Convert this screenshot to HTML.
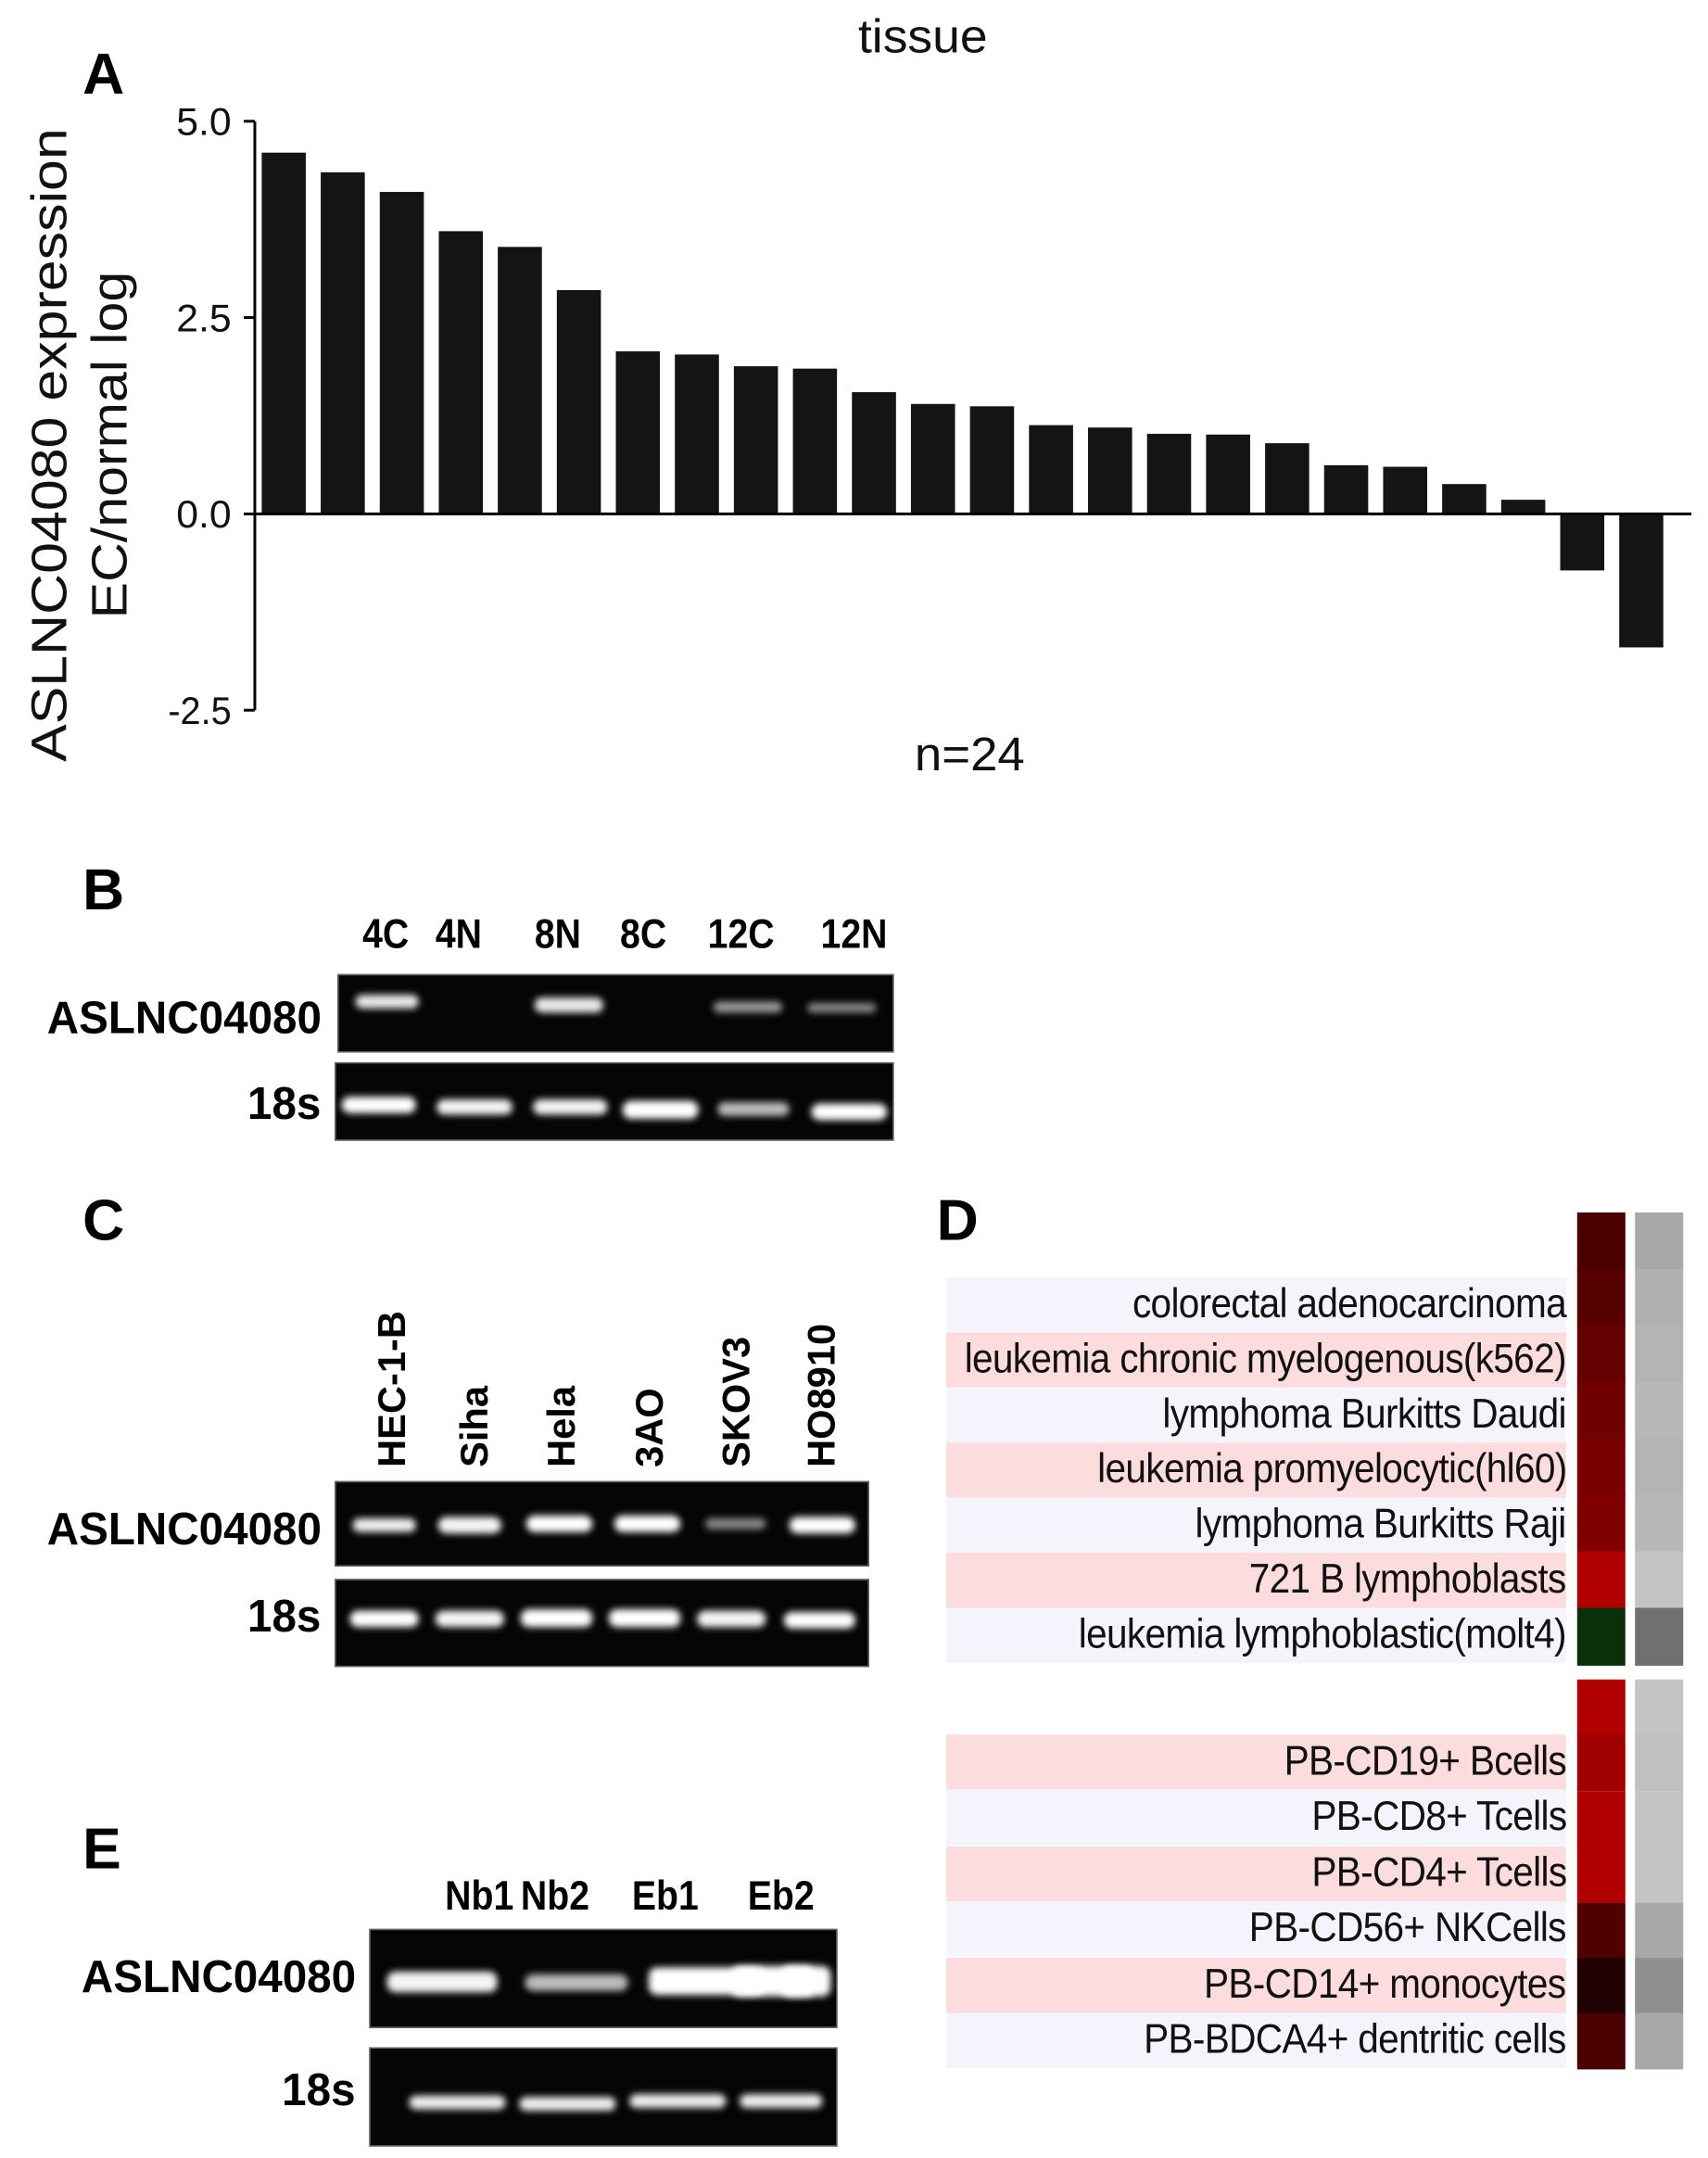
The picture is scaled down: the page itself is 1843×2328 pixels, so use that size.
<!DOCTYPE html>
<html><head><meta charset="utf-8"><style>
html,body{margin:0;padding:0;background:#fff;}
body{width:1843px;height:2328px;overflow:hidden;position:relative;}
#root{position:absolute;left:0;top:0;width:1240px;height:1566px;transform:scale(1.48629);transform-origin:0 0;font-family:"Liberation Sans",sans-serif;}
.abs{position:absolute;}
.big{font-weight:bold;font-size:42px;}
.lane{font-weight:bold;font-size:30px;position:absolute;transform:translateX(-50%) scaleX(0.88);white-space:nowrap;}
.rlane{font-weight:bold;font-size:28px;position:absolute;white-space:nowrap;transform:rotate(-90deg);transform-origin:0 0;margin-left:-16px;}
.glab{font-weight:bold;font-size:33px;position:absolute;text-align:right;white-space:nowrap;transform:scaleX(0.97);transform-origin:right center;}
.gel{position:absolute;background:#050505;border:1px solid #666;}
.band{position:absolute;border-radius:6px;filter:blur(2.5px);}
.rowlab{position:absolute;left:687px;width:450px;height:40px;font-size:30px;line-height:40px;color:#111;white-space:nowrap;}
.rowlab span{position:absolute;right:0;top:0;transform:scaleX(0.91);transform-origin:right center;letter-spacing:-0.5px;}
.cell{position:absolute;}
</style></head><body>
<div id="root">
<div class="abs big" style="left:60px;top:30px">A</div>
<svg class="abs" style="left:0;top:0" width="1240" height="600" id="chartA"></svg>

<div class="abs big" style="left:60px;top:622px">B</div>
<div class="lane" style="left:280px;top:662px">4C</div>
<div class="lane" style="left:333px;top:662px">4N</div>
<div class="lane" style="left:405px;top:662px">8N</div>
<div class="lane" style="left:467px;top:662px">8C</div>
<div class="lane" style="left:538px;top:662px">12C</div>
<div class="lane" style="left:620px;top:662px">12N</div>
<div class="glab" style="right:1007px;top:720px">ASLNC04080</div>
<div class="glab" style="right:1007px;top:782px">18s</div>
<div class="gel" style="left:245px;top:707px;width:402px;height:55px">
 <div class="band" style="left:12px;top:14px;width:46px;height:10px;background:#e8e8e8"></div>
 <div class="band" style="left:142px;top:16px;width:50px;height:11px;background:#e8e8e8"></div>
 <div class="band" style="left:272px;top:19px;width:50px;height:8px;background:#999"></div>
 <div class="band" style="left:340px;top:20px;width:50px;height:7px;background:#888"></div>
</div>
<div class="gel" style="left:243px;top:771px;width:404px;height:55px">
 <div class="band" style="left:4px;top:24px;width:54px;height:12px;background:#fff"></div>
 <div class="band" style="left:73px;top:26px;width:55px;height:11px;background:#f4f4f4"></div>
 <div class="band" style="left:143px;top:26px;width:54px;height:11px;background:#f4f4f4"></div>
 <div class="band" style="left:208px;top:27px;width:55px;height:13px;background:#fff"></div>
 <div class="band" style="left:277px;top:28px;width:52px;height:10px;background:#bbb"></div>
 <div class="band" style="left:345px;top:29px;width:55px;height:12px;background:#fff"></div>
</div>

<div class="abs big" style="left:60px;top:862px">C</div>
<div class="abs" style="left:0;top:0">
<div class="rlane" style="left:285px;top:1065px">HEC-1-B</div>
<div class="rlane" style="left:345px;top:1065px">Siha</div>
<div class="rlane" style="left:408px;top:1065px">Hela</div>
<div class="rlane" style="left:472px;top:1065px">3AO</div>
<div class="rlane" style="left:535px;top:1065px">SKOV3</div>
<div class="rlane" style="left:597px;top:1065px">HO8910</div>
</div>
<div class="glab" style="right:1007px;top:1091px">ASLNC04080</div>
<div class="glab" style="right:1007px;top:1154px">18s</div>
<div class="gel" style="left:243px;top:1075px;width:386px;height:60px">
 <div class="band" style="left:12px;top:26px;width:46px;height:10px;background:#eee"></div>
 <div class="band" style="left:74px;top:25px;width:46px;height:12px;background:#f4f4f4"></div>
 <div class="band" style="left:138px;top:24px;width:48px;height:12px;background:#fff"></div>
 <div class="band" style="left:202px;top:24px;width:48px;height:12px;background:#fff"></div>
 <div class="band" style="left:268px;top:26px;width:44px;height:8px;background:#888"></div>
 <div class="band" style="left:329px;top:25px;width:48px;height:12px;background:#fff"></div>
</div>
<div class="gel" style="left:243px;top:1146px;width:386px;height:62px">
 <div class="band" style="left:10px;top:22px;width:50px;height:12px;background:#fff"></div>
 <div class="band" style="left:72px;top:22px;width:50px;height:12px;background:#f4f4f4"></div>
 <div class="band" style="left:134px;top:21px;width:52px;height:13px;background:#fff"></div>
 <div class="band" style="left:198px;top:21px;width:52px;height:13px;background:#fff"></div>
 <div class="band" style="left:262px;top:22px;width:50px;height:12px;background:#f4f4f4"></div>
 <div class="band" style="left:325px;top:23px;width:52px;height:12px;background:#fff"></div>
</div>

<div class="abs big" style="left:60px;top:1318px">E</div>
<div class="lane" style="left:348px;top:1360px">Nb1</div>
<div class="lane" style="left:403px;top:1360px">Nb2</div>
<div class="lane" style="left:483px;top:1360px">Eb1</div>
<div class="lane" style="left:567px;top:1360px">Eb2</div>
<div class="glab" style="right:982px;top:1416px">ASLNC04080</div>
<div class="glab" style="right:982px;top:1498px">18s</div>
<div class="gel" style="left:268px;top:1400px;width:338px;height:70px">
 <div class="band" style="left:12px;top:30px;width:80px;height:15px;background:#f4f4f4"></div>
 <div class="band" style="left:112px;top:32px;width:75px;height:12px;background:#bbb"></div>
 <div class="band" style="left:202px;top:27px;width:84px;height:20px;background:#fff"></div>
 <div class="band" style="left:298px;top:26px;width:36px;height:22px;background:#fff"></div>
 <div class="band" style="left:262px;top:26px;width:60px;height:22px;background:#fff"></div>
</div>
<div class="gel" style="left:268px;top:1486px;width:338px;height:70px">
 <div class="band" style="left:28px;top:34px;width:70px;height:10px;background:#eee"></div>
 <div class="band" style="left:108px;top:35px;width:70px;height:10px;background:#eee"></div>
 <div class="band" style="left:188px;top:33px;width:70px;height:10px;background:#eee"></div>
 <div class="band" style="left:268px;top:33px;width:60px;height:10px;background:#eee"></div>
</div>

<div class="abs big" style="left:680px;top:862px">D</div>
<div id="heat"></div>
</div>
<script>
// Panel A data
const categories = Array.from({length:24},(_, i)=>'S'+(i+1));
const values = [4.6,4.35,4.1,3.6,3.4,2.85,2.07,2.03,1.88,1.85,1.55,1.4,1.37,1.13,1.1,1.02,1.01,0.9,0.62,0.6,0.38,0.18,-0.72,-1.7];
const ticks = [5.0,2.5,0.0,-2.5];
const tickLabels = ['5.0','2.5','0.0','-2.5'];

const NS='http://www.w3.org/2000/svg';
const svg=document.getElementById('chartA');
function y(v){return 373 - v*(285/5);}
function x(i){return 190 + i*42.85;}
function mk(t,a){const e=document.createElementNS(NS,t);for(const k in a)e.setAttribute(k,a[k]);svg.appendChild(e);return e;}
let ax=mk('line',{x1:185,y1:y(5),x2:185,y2:y(-2.5),stroke:'#000','stroke-width':2});


ticks.forEach((t,i)=>{
  const tk=mk('line',{x1:177,y1:y(t),x2:185,y2:y(t),stroke:'#000','stroke-width':2});
  
  
  const tl=mk('text',{x:168,y:y(t)+10,'text-anchor':'end','font-size':28,'font-family':'Liberation Sans, sans-serif',fill:'#111',textLength:t<0?46:40,lengthAdjust:'spacingAndGlyphs'});
  tl.textContent=tickLabels[i];
  
  
});
values.forEach((v,i)=>{
  const r=mk('rect',{x:x(i),y:Math.min(y(v),y(0)),width:32,height:Math.abs(y(v)-y(0)),fill:'#141414'});
  
  
});
let zl=mk('line',{x1:185,y1:y(0),x2:1228,y2:y(0),stroke:'#000','stroke-width':2});


let tt=mk('text',{x:670,y:38,'text-anchor':'middle','font-size':34,'font-family':'Liberation Sans, sans-serif',fill:'#111',textLength:94,lengthAdjust:'spacingAndGlyphs'});
tt.textContent='tissue';


let nt=mk('text',{x:704,y:559,'text-anchor':'middle','font-size':34,'font-family':'Liberation Sans, sans-serif',fill:'#111',textLength:80,lengthAdjust:'spacingAndGlyphs'});
nt.textContent='n=24';


let yl=mk('text',{x:0,y:0,'text-anchor':'middle','font-size':36,'font-family':'Liberation Sans, sans-serif',fill:'#111',transform:'translate(48,323) rotate(-90)',textLength:460,lengthAdjust:'spacingAndGlyphs'});
yl.textContent='ASLNC04080 expression';


let yl2=mk('text',{x:0,y:0,'text-anchor':'middle','font-size':36,'font-family':'Liberation Sans, sans-serif',fill:'#111',transform:'translate(92,323) rotate(-90)',textLength:252,lengthAdjust:'spacingAndGlyphs'});
yl2.textContent='EC/normal log';



// Panel D heatmap
const rowLabels1=['colorectal adenocarcinoma','leukemia chronic myelogenous(k562)','lymphoma Burkitts Daudi','leukemia promyelocytic(hl60)','lymphoma Burkitts Raji','721 B lymphoblasts','leukemia lymphoblastic(molt4)'];
const heat1=['#4a0000','#560000','#640000','#700000','#780000','#800000','#b00000','#0a300a'];
const gray1=['#a8a8a8','#b0b0b0','#b4b4b4','#b8b8b8','#b4b4b4','#b8b8b8','#c4c4c4','#707070'];
const rowLabels2=['PB-CD19+ Bcells','PB-CD8+ Tcells','PB-CD4+ Tcells','PB-CD56+ NKCells','PB-CD14+ monocytes','PB-BDCA4+ dentritic cells'];
const heat2=['#b00000','#a00000','#b00000','#b00000','#500000','#200000','#480000'];
const gray2=['#c4c4c4','#c0c0c0','#c4c4c4','#c4c4c4','#a8a8a8','#909090','#a8a8a8'];
const root=document.getElementById('heat');
function drawBlock(labels,heat,gray,cellTop,cellH,labTop,labH){
  labels.forEach((l,i)=>{
    const d=document.createElement('div');
    d.className='rowlab';
    d.style.top=(labTop+i*labH)+'px';
    d.style.background=(i%2==0)?(labels===rowLabels1?'#f4f4fc':'#fcdcdc'):(labels===rowLabels1?'#fcdcdc':'#f4f4fc');
    const s=document.createElement('span');
    s.textContent=l;
    d.appendChild(s);
    
    
    root.appendChild(d);
  });
  heat.forEach((c,i)=>{
    const a=document.createElement('div');a.className='cell';
    a.style.cssText='left:1145px;width:35px;top:'+(cellTop+i*cellH)+'px;height:'+(cellH+0.5)+'px;background:'+c;
    
    
    root.appendChild(a);
    const g=document.createElement('div');g.className='cell';
    g.style.cssText='left:1187px;width:35px;top:'+(cellTop+i*cellH)+'px;height:'+(cellH+0.5)+'px;background:'+gray[i];
    
    
    root.appendChild(g);
  });
}
drawBlock(rowLabels1,heat1,gray1,880,41,927,40);
drawBlock(rowLabels2,heat2,gray2,1219,40.4,1259,40.4);
</script>
</body></html>
